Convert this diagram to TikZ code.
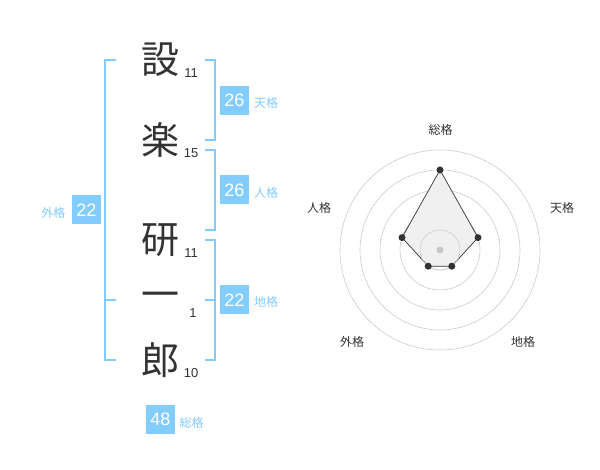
\documentclass[tikz,border=0pt]{standalone}
\usepackage{fontspec}
\setmainfont{Liberation Sans}
\newfontfamily\jp{Noto Sans CJK JP}
\definecolor{kblue}{RGB}{130,204,255}
\definecolor{ink}{RGB}{51,51,51}
\begin{document}
\begin{tikzpicture}[x=1pt,y=-1pt,
 kanji/.style={font=\jp\fontsize{38}{38}\selectfont, text=ink, inner sep=0pt},
 strokes/.style={font=\fontsize{13}{13}\selectfont, text=ink, inner sep=0pt},
 numbox/.style={fill=kblue, text=white, minimum size=29pt, inner sep=0pt, font=\fontsize{18}{18}\selectfont},
 kaku/.style={text=kblue, font=\jp\fontsize{12}{12}\selectfont, inner sep=0pt},
 brk/.style={draw=kblue, line width=2pt},
 ring/.style={draw=black!20, line width=0.6pt},
 axislab/.style={text=ink, font=\jp\fontsize{12}{12}\selectfont, inner sep=0pt},
 vdot/.style={circle, fill=ink, inner sep=0pt, minimum size=7pt}]
\useasboundingbox (0,0) rectangle (600,470);
\fill[white] (0,0) rectangle (600,470);
% characters
\node[kanji] (k1) at (160,60) {設};
\node[kanji] (k2) at (160,140) {楽};
\node[kanji] (k3) at (160,240) {研};
\node[kanji] (k4) at (160,300) {一};
\node[kanji] (k5) at (160,360) {郎};
\node[strokes] (s1) at (191,73) {11};
\node[strokes] (s2) at (191,153) {15};
\node[strokes] (s3) at (191,253) {11};
\node[strokes] (s4) at (193,313) {1};
\node[strokes] (s5) at (191,373) {10};
% brackets
\draw[brk] (116,60) -- (105,60) -- (105,360) -- (116,360);
\draw[brk] (105,300) -- (116,300);
\draw[brk] (205,60) -- (215,60) -- (215,140) -- (205,140);
\draw[brk] (205,150) -- (215,150) -- (215,230) -- (205,230);
\draw[brk] (205,240) -- (215,240) -- (215,360) -- (205,360);
\draw[brk] (205,300) -- (215,300);
% boxes
\node[numbox] (b1) at (234.5,100.5) {26};
\node[kaku] (l1) at (266,103) {天格};
\node[numbox] (b2) at (234.5,190) {26};
\node[kaku] (l2) at (266,193) {人格};
\node[numbox] (b3) at (234.5,300) {22};
\node[kaku] (l3) at (266,302) {地格};
\node[numbox] (b4) at (86.5,210) {22};
\node[kaku] (l4) at (53.5,213) {外格};
\node[numbox] (b5) at (160.5,419) {48};
\node[kaku] (l5) at (191.5,423) {総格};
% radar
\coordinate (c) at (440,250);
\foreach \r in {20,40,60,80,100} \draw[ring] (c) circle[radius=\r pt];
\coordinate (p1) at (440,170);
\coordinate (p2) at (478.0,237.6);
\coordinate (p3) at (451.8,266.2);
\coordinate (p4) at (428.2,266.2);
\coordinate (p5) at (402.0,237.6);
\filldraw[fill=black!6, draw=ink, line width=0.7pt] (p1) -- (p2) -- (p3) -- (p4) -- (p5) -- cycle;
\draw[ring] (c) circle[radius=20pt];
\fill[black!22] (c) circle[radius=3.5pt];
\foreach \p in {p1,p2,p3,p4,p5} \node[vdot] at (\p) {};
\node[axislab] (a1) at (440.5,130) {総格};
\node[axislab] (a2) at (562,208) {天格};
\node[axislab] (a3) at (523,342) {地格};
\node[axislab] (a4) at (352,342) {外格};
\node[axislab] (a5) at (319,208) {人格};
\end{tikzpicture}
\end{document}
